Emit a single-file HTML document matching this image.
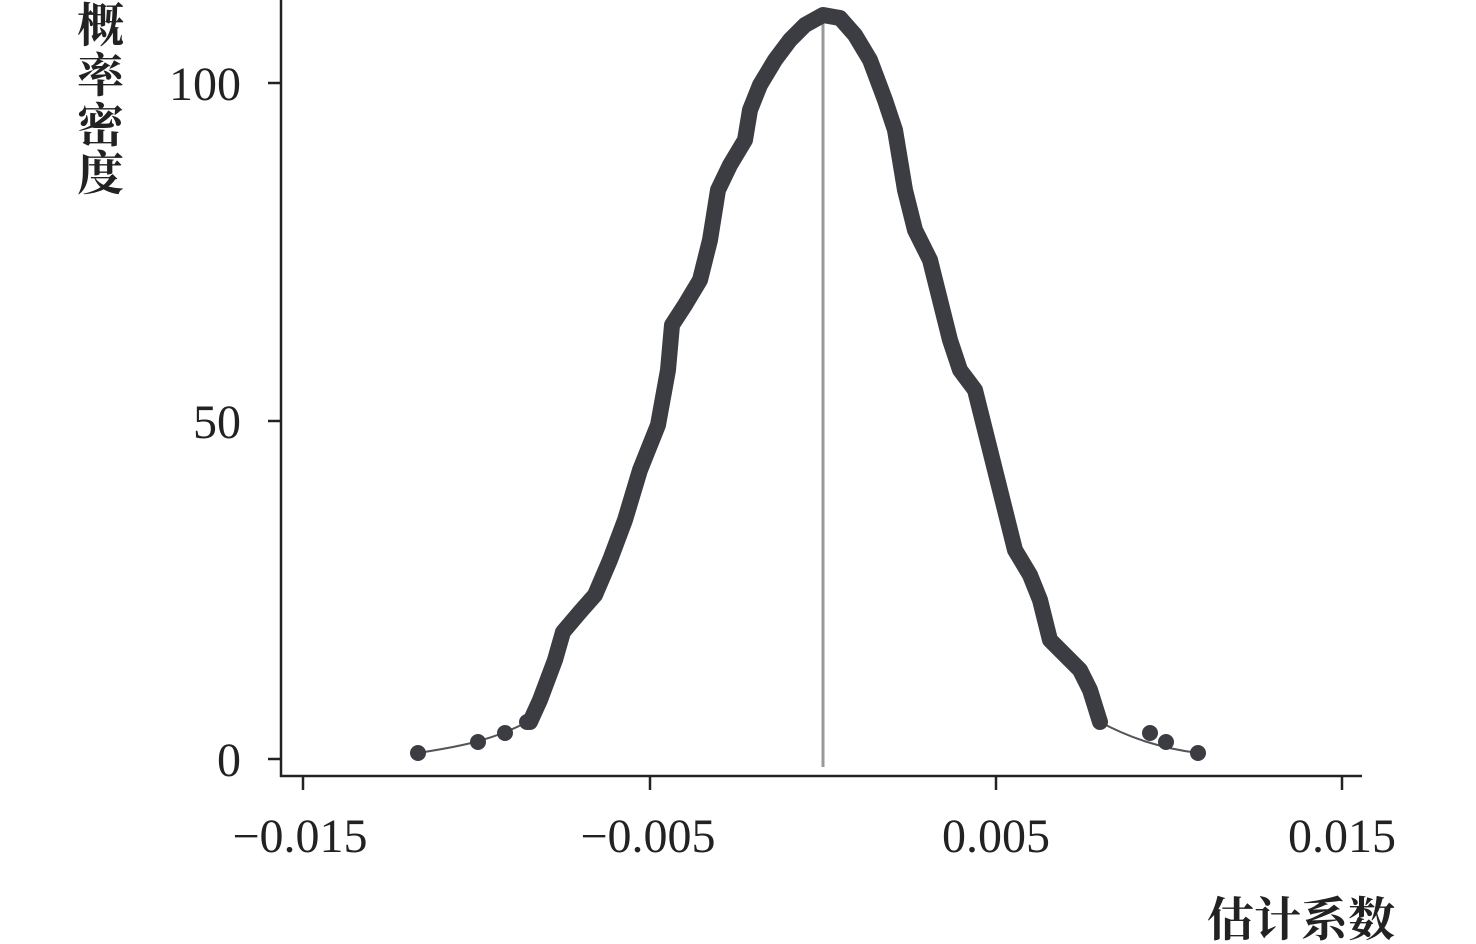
<!DOCTYPE html>
<html><head><meta charset="utf-8"><style>
html,body{margin:0;padding:0;background:#fff;}
svg{display:block}
</style></head><body>
<svg width="1476" height="944" viewBox="0 0 1476 944" xmlns="http://www.w3.org/2000/svg">
<g font-family="'Liberation Serif','Noto Serif CJK SC',serif" fill="#222">
<line x1="281" y1="0" x2="281" y2="777" stroke="#222" stroke-width="2.5"/>
<line x1="280" y1="776" x2="1362" y2="776" stroke="#222" stroke-width="2.5"/>
<g stroke="#222" stroke-width="2.5">
<line x1="268" y1="759" x2="281" y2="759"/>
<line x1="268" y1="421" x2="281" y2="421"/>
<line x1="268" y1="83" x2="281" y2="83"/>
<line x1="303" y1="776" x2="303" y2="790"/>
<line x1="650" y1="776" x2="650" y2="790"/>
<line x1="996" y1="776" x2="996" y2="790"/>
<line x1="1342" y1="776" x2="1342" y2="790"/>
</g>
<g font-size="48" text-anchor="end">
<text x="241" y="776">0</text>
<text x="241" y="438">50</text>
<text x="241" y="100">100</text>
</g>
<g font-size="48" text-anchor="middle">
<text x="300" y="852">−0.015</text>
<text x="648" y="852">−0.005</text>
<text x="996" y="852">0.005</text>
<text x="1342" y="852">0.015</text>
</g>
<g font-size="47" font-family="'Noto Serif CJK SC','Noto Sans CJK SC',serif" font-weight="bold">
<text x="77" y="42">概</text>
<text x="77" y="92">率</text>
<text x="77" y="142">密</text>
<text x="77" y="190">度</text>
<text x="1207" y="936">估计系数</text>
</g>
</g>
<line x1="823" y1="10" x2="823" y2="767" stroke="#999" stroke-width="3"/>
<path d="M418,753 C450,748 490,742 527,722 M1100,722 C1130,738 1160,748 1198,753" fill="none" stroke="#555" stroke-width="2"/>
<polyline fill="none" stroke="#3c3d42" stroke-width="16" stroke-linejoin="round" stroke-linecap="round"
points="530,722 540,700 555,660 563,632 580,612 595,595 610,560 625,520 640,470 658,425 668,370 672,325 685,305 700,280 710,240 718,190 730,165 745,140 750,110 760,85 775,60 790,40 805,25 823,15 840,18 855,35 870,60 885,100 895,130 905,190 915,230 930,260 940,300 950,340 960,370 975,390 985,430 995,470 1005,510 1015,550 1030,575 1040,600 1050,640 1065,655 1080,670 1090,690 1100,722"/>
<g fill="#3c3d42">
<circle cx="418" cy="753" r="8"/><circle cx="478" cy="742" r="8"/><circle cx="505" cy="733" r="8"/><circle cx="527" cy="722" r="8"/>
<circle cx="1150" cy="733" r="8"/><circle cx="1166" cy="742" r="8"/><circle cx="1198" cy="753" r="8"/>
</g>
</svg>
</body></html>
